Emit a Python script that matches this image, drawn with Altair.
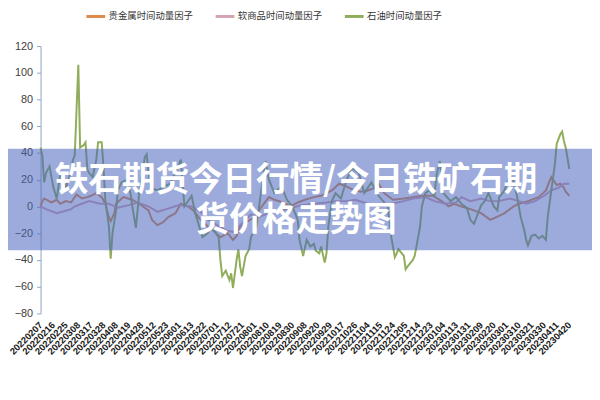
import altair as alt
import pandas as pd

# X tick labels (every 7 trading days)
labels = ["20220207","20220216","20220225","20220308","20220317","20220328","20220408",
          "20220419","20220428","20220512","20220523","20220601","20220613","20220622",
          "20220701","20220712","20220721","20220801","20220810","20220819","20220830",
          "20220908","20220920","20220929","20221017","20221026","20221104","20221115",
          "20221124","20221205","20221214","20221223","20230104","20230113","20230131",
          "20230209","20230220","20230301","20230310","20230321","20230330","20230411",
          "20230420"]

series_names = ["贵金属时间动量因子", "软商品时间动量因子", "石油时间动量因子"]
colors = ["#DD8A4A", "#D4A2B0", "#8FAD5A"]

# 贵金属 (trading-day index, value)
gold_day = [0,1,2,6,9,11,14,17,20,23,26,28,31,34,36,38,39,41,42,46,51,57,60,62,65,68,71,75,78,82,
            85,89,93,96,100,104,107,109,111,114,119,123,127,130,135,139,143,147,152,156,162,166,170,
            173,178,182,186,188,191,196,202,207,212,218,223,227,230,234,239,245,250,255,258,263,266,
            271,277,281,283,284,287,289,291,292,294]
gold_val = [0,4,6,3,5,2,4,3,9,6,7,8,10,7,2,-8,-11,-5,2,7,5,0,-3,-10,-14,-12,-8,-5,2,0,
            -3,-10,-15,-18,-23,-20,-25,-22,-15,-12,-8,0,7,5,3,0,3,5,7,8,12,17,15,
            13,11,12,14,17,10,5,6,7,8,8,4,0,2,0,-2,-5,-10,-7,-5,0,2,
            4,7,12,19,22,16,17,14,11,8]

# 软商品
soft_day = [0,3,9,12,17,19,23,27,33,38,43,49,54,60,65,70,77,84,89,93,97,103,107,111,114,117,121,
            127,134,140,145,152,159,164,170,175,182,189,195,202,207,214,219,225,231,234,239,245,250,
            255,261,266,270,275,280,284,288,291,294]
soft_val = [0,-2,-5,-4,-2,0,2,4,2,2,-1,1,3,0,-4,-2,1,0,-4,-10,-13,-18,-19,-14,-10,-6,-8,
            -5,-3,-1,1,2,3,4,4,5,2,0,2,4,6,7,4,2,3,7,4,6,4,
            4,6,4,2,4,8,12,14,17,17]

# 石油
oil_day = [0,1,2,3,5,7,9,10,11,13,14,16,17,18,19,20,21,22,24,25,26,27,29,31,32,34,35,36,38,39,
           40,42,43,45,48,50,51,53,55,58,59,61,65,69,72,76,78,80,84,86,90,93,95,99,100,101,103,105,
           106,107,109,110,111,112,114,116,117,120,122,125,127,130,134,137,140,143,144,146,148,150,
           152,153,155,156,158,159,160,162,164,167,170,173,177,180,184,188,193,195,197,199,202,203,
           204,207,208,209,211,212,214,216,219,220,222,224,226,228,231,234,237,239,241,243,245,247,
           249,252,254,255,258,261,263,265,267,269,270,271,273,275,277,279,281,282,284,286,287,289,
           290,291,292,294]
oil_val = [44,38,18,25,30,15,6,15,24,18,14,22,27,35,38,72,106,44,46,48,28,25,22,35,48,48,29,5,-15,-39,
           -20,-3,12,18,20,10,0,-16,12,37,39,14,12,15,17,28,35,0,8,-5,-23,-20,-15,-23,-40,-52,-48,-55,
           -50,-61,-40,-32,-45,-52,-37,-32,-23,-15,5,34,20,10,15,5,0,-10,-25,-37,-25,-30,
           -28,-33,-35,-30,-42,-35,-15,4,10,6,19,29,25,10,18,8,0,-23,-38,-32,-37,-47,
           -45,-40,-37,-30,-15,0,10,12,8,22,34,10,7,4,7,2,-1,-10,-13,-6,1,4,
           10,0,-3,7,12,24,19,7,-8,-18,-25,-29,-22,-21,-24,-22,-25,-8,12,32,47,54,
           56,49,44,28]

assert len(gold_day) == len(gold_val)
assert len(soft_day) == len(soft_val)
assert len(oil_day) == len(oil_val)

rows = []
for name, days, vals in zip(series_names, [gold_day, soft_day, oil_day], [gold_val, soft_val, oil_val]):
    for d, v in zip(days, vals):
        rows.append({"series": name, "day": d, "value": v})
df = pd.DataFrame(rows)

title_lines = ["铁石期货今日行情/今日铁矿石期", "货价格走势图"]

label_expr = "[" + ",".join("'" + l + "'" for l in labels) + "][round(datum.value / 7)]"

PAD_L, PAD_T = 33, 36
W, H = 536, 271

lines = alt.Chart(df).mark_line(strokeWidth=2).encode(
    x=alt.X("day:Q",
            scale=alt.Scale(domain=[0, 294], nice=False, zero=False),
            axis=alt.Axis(values=list(range(0, 295, 7)), labelExpr=label_expr,
                          labelAngle=-45, labelAlign="right", labelBaseline="middle",
                          labelOverlap=False, labelFlush=False, labelBound=False,
                          domain=False, ticks=False, grid=False, title=None,
                          labelPadding=10, labelFontSize=9.5, labelFontWeight="bold",
                          labelFont="Liberation Sans", labelColor="#1a1a1a")),
    y=alt.Y("value:Q",
            scale=alt.Scale(domain=[-80, 120], nice=False),
            axis=alt.Axis(values=list(range(-80, 121, 20)), grid=False, title=None,
                          domainColor="#8EA4C8", tickColor="#8EA4C8", tickSize=4,
                          labelFontSize=11, labelColor="#404040", labelPadding=4,
                          labelFont="Liberation Sans", labelFlush=False)),
    color=alt.Color("series:N",
                    scale=alt.Scale(domain=series_names, range=colors),
                    sort=series_names,
                    legend=alt.Legend(title=None, orient="none", legendX=45, legendY=-41,
                                      direction="horizontal", symbolType="stroke",
                                      symbolSize=361, symbolStrokeWidth=3,
                                      labelFontSize=9.5, labelFont="Noto Sans CJK SC",
                                      labelColor="#333333", labelOffset=2, columnPadding=16)),
)

band = alt.Chart(pd.DataFrame({"k": [0]})).mark_rect(fill="#4A66BE", opacity=0.55).encode(
    x=alt.value(-PAD_L), x2=alt.value(W + 40), y=alt.value(104), y2=alt.value(207)
)

title = alt.Chart(pd.DataFrame({"k": [0]})).mark_text(
    text=title_lines, font="Noto Sans CJK SC", fontSize=34, fontWeight="bold",
    color="white", align="center", baseline="middle", lineHeight=40
).encode(x=alt.value(300 - 8 - PAD_L), y=alt.value(137))

chart = alt.layer(lines, band, title).properties(
    width=W, height=H,
    autosize=alt.AutoSizeParams(type="none"),
    padding={"left": PAD_L, "top": PAD_T, "right": 592 - PAD_L - W, "bottom": 70},
).configure_view(stroke=None)

chart.save("out.html", embed_options={"renderer": "svg", "actions": False})
